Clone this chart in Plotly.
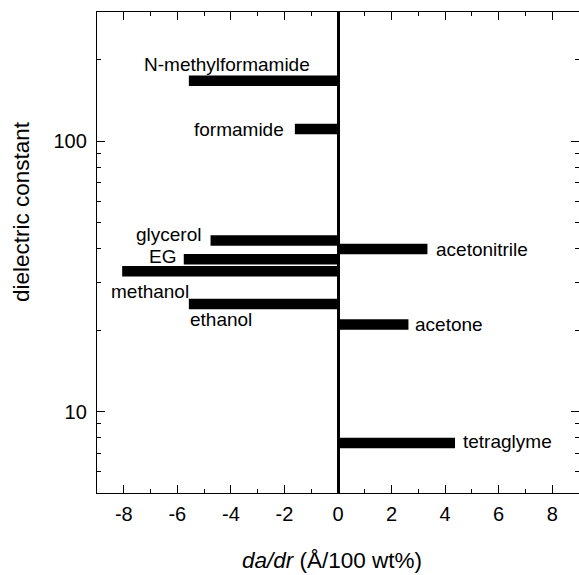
import plotly.graph_objects as go
import numpy as np

# Data
solvents = ["N-methylformamide", "formamide", "glycerol", "EG", "methanol",
            "ethanol", "acetonitrile", "acetone", "tetraglyme"]
dielectric = [167, 110.8, 42.9, 36.6, 33.0, 25.0, 39.9, 21.0, 7.65]
dadr = [-5.57, -1.61, -4.76, -5.76, -8.06, -5.57, 3.34, 2.63, 4.37]

x_ticks = [-8, -6, -4, -2, 0, 2, 4, 6, 8]
x_minor = [-9, -7, -5, -3, -1, 1, 3, 5, 7, 9]
y_ticks = [10, 100]
y_minor = [5, 6, 7, 8, 9, 20, 30, 40, 50, 60, 70, 80, 90, 200, 300]

x_title = "<i>da/dr</i> (Å/100 wt%)"
y_title = "dielectric constant"

# label styles: (xanchor, xshift, yshift)
label_style = {
    "N-methylformamide": ("center", 38, 16),
    "formamide": ("right", -9, 0),
    "glycerol": ("right", -8, 6),
    "EG": ("right", -6, 3),
    "methanol": ("left", -13, -20),
    "ethanol": ("left", -1, -16),
    "acetonitrile": ("left", 7, 0),
    "acetone": ("left", 5, 0),
    "tetraglyme": ("left", 6, 2),
}

FONT = "Liberation Sans, Arial, Helvetica, sans-serif"

fig = go.Figure()
for name, eps, v in zip(solvents, dielectric, dadr):
    fig.add_trace(go.Scatter(x=[0, v], y=[eps, eps], mode="lines",
                             line=dict(color="black", width=10.5),
                             showlegend=False, hoverinfo="skip", name=name))

for name, eps, v in zip(solvents, dielectric, dadr):
    xa, xs, ys = label_style[name]
    fig.add_annotation(x=v, y=np.log10(eps), text=name, showarrow=False,
                       xanchor=xa, yanchor="middle", xshift=xs, yshift=ys,
                       font=dict(family=FONT, size=19, color="black"))

# axis titles as annotations for exact placement
fig.add_annotation(xref="paper", yref="paper", x=0.4876, y=-0.141,
                   text=x_title, showarrow=False, xanchor="center", yanchor="middle",
                   font=dict(family=FONT, size=22.5, color="black"))
fig.add_annotation(xref="paper", yref="paper", x=-0.158, y=0.586,
                   text=y_title, showarrow=False, xanchor="center", yanchor="middle",
                   textangle=-90, font=dict(family=FONT, size=22.5, color="black"))

fig.update_layout(
    width=579, height=575,
    margin=dict(l=97, r=0, t=12, b=82),
    plot_bgcolor="white", paper_bgcolor="white",
    font=dict(family=FONT, color="black"),
    showlegend=False,
)
fig.update_xaxes(
    range=[-9, 9], tickvals=x_ticks, ticktext=[str(t) for t in x_ticks],
    ticks="inside", ticklen=8, tickwidth=1, tickcolor="black",
    minor=dict(tickvals=x_minor, ticks="inside", ticklen=4, tickcolor="black"),
    showline=True, linecolor="black", linewidth=1.3, mirror="ticks",
    showgrid=False, zeroline=True, zerolinecolor="black", zerolinewidth=2.6,
    tickfont=dict(size=20), ticklabelstandoff=3,
)
fig.update_yaxes(
    type="log", range=[np.log10(5), np.log10(300)],
    tickvals=y_ticks, ticktext=[str(t) for t in y_ticks],
    ticks="inside", ticklen=8, tickwidth=1, tickcolor="black",
    minor=dict(tickvals=y_minor, ticks="inside", ticklen=4, tickcolor="black"),
    showline=True, linecolor="black", linewidth=1.3, mirror="ticks",
    showgrid=False, zeroline=False,
    tickfont=dict(size=20), ticklabelstandoff=5,
)

fig.write_html("out.html")
